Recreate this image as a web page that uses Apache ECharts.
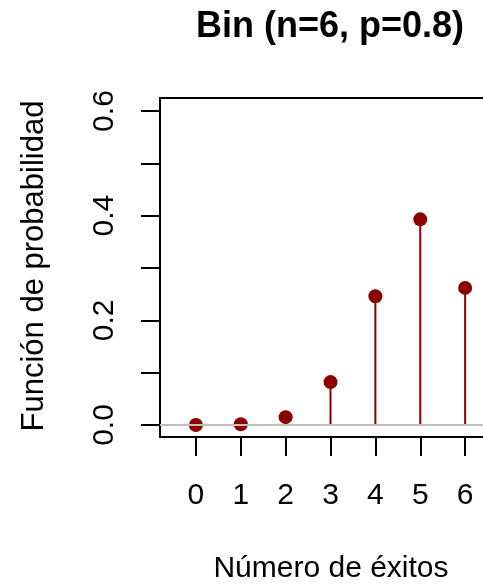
<!DOCTYPE html>
<html><head><meta charset="utf-8">
<script src="https://cdn.jsdelivr.net/npm/echarts@6/dist/echarts.min.js"></script>
<style>html,body{margin:0;padding:0;background:#fff;overflow:hidden;width:483px;height:587px;}#c{width:530px;height:587px;}</style>
</head><body><div id="c"></div>
<script>
var successes = [0, 1, 2, 3, 4, 5, 6];
var probabilities = [0.0001, 0.0015, 0.015, 0.082, 0.246, 0.393, 0.262];
var yTicks = [0, 0.1, 0.2, 0.3, 0.4, 0.5, 0.6];
var yLabels = [0, 0.2, 0.4, 0.6];
var xTicks = [0, 1, 2, 3, 4, 5, 6];
var titleText = 'Bin (n=6, p=0.8)';
var xTitle = 'Número de éxitos';
var yTitle = 'Función de probabilidad';

var FONT = '"Liberation Sans", Arial, Helvetica, sans-serif';
var pts = successes.map(function (x, i) { return [x, probabilities[i]]; });
var chart = echarts.init(document.getElementById('c'), null, {renderer: 'canvas'});
chart.setOption({
  animation: false,
  backgroundColor: '#fff',
  grid: {left: 160, top: 98, bottom: 150, right: 20, show: true, borderColor: '#000', borderWidth: 2, backgroundColor: 'transparent'},
  xAxis: {
    type: 'value', min: -0.8, max: 7.0,
    axisLine: {show: false, onZero: false},
    splitLine: {show: false},
    axisTick: {show: true, customValues: xTicks, length: 19, lineStyle: {color: '#000', width: 2}},
    axisLabel: {customValues: xTicks, margin: 44, fontSize: 30, color: '#000', fontFamily: FONT}
  },
  yAxis: {
    type: 'value', min: -0.0229, max: 0.6249,
    axisLine: {show: false, onZero: false},
    splitLine: {show: false},
    axisTick: {show: true, customValues: yTicks, length: 19, lineStyle: {color: '#000', width: 2}},
    axisLabel: {customValues: yLabels, rotate: 90, margin: 40, fontSize: 30, color: '#000', fontFamily: FONT,
      formatter: function (v) { return v.toFixed(1); }}
  },
  series: [
    {
      type: 'custom',
      data: pts,
      z: 3,
      renderItem: function (params, api) {
        var p0 = api.coord([api.value(0), 0]);
        var p1 = api.coord([api.value(0), api.value(1)]);
        return {type: 'line', shape: {x1: p0[0], y1: p0[1], x2: p1[0], y2: p1[1]},
          style: {stroke: '#8B0000', lineWidth: 2}};
      },
      markLine: {
        silent: true, symbol: 'none', label: {show: false},
        lineStyle: {color: '#BEBEBE', width: 2, type: 'solid'},
        data: [{yAxis: 0}]
      }
    },
    {
      type: 'scatter', data: pts, symbol: 'circle', symbolSize: 14, z: 4,
      itemStyle: {color: '#8B0000', opacity: 1}
    }
  ],
  graphic: [
    {type: 'text', x: 330, y: 27, style: {text: titleText, font: 'bold 36px ' + FONT, fill: '#000', textAlign: 'center', textVerticalAlign: 'middle'}},
    {type: 'text', x: 331, y: 569, style: {text: xTitle, font: '30px ' + FONT, fill: '#000', textAlign: 'center', textVerticalAlign: 'middle'}},
    {type: 'text', x: 34, y: 266, rotation: Math.PI / 2, style: {text: yTitle, font: '31px ' + FONT, fill: '#000', textAlign: 'center', textVerticalAlign: 'middle'}}
  ]
});
</script></body></html>
